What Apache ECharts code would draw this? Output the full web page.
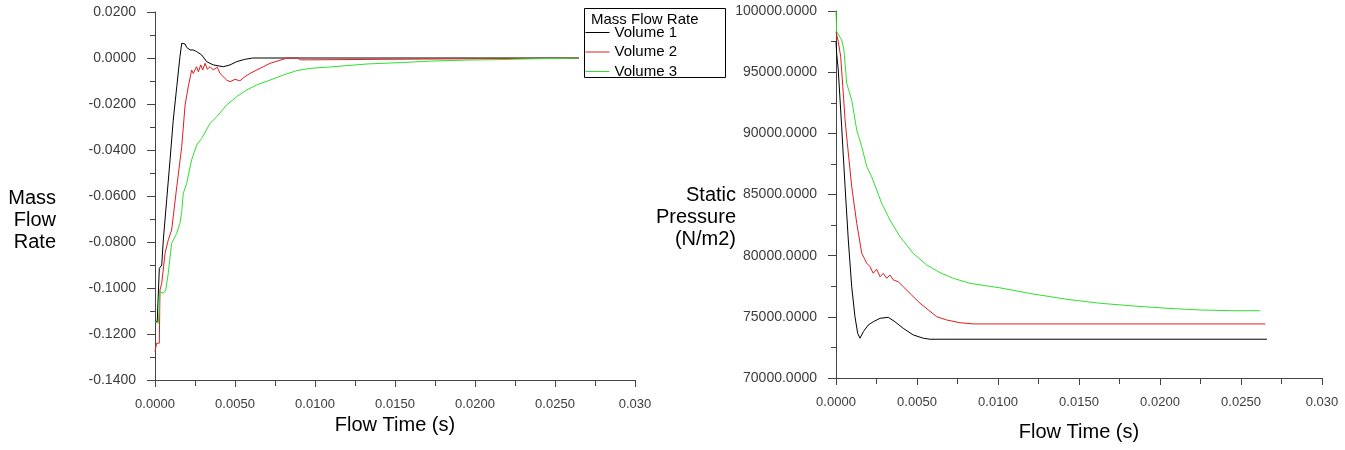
<!DOCTYPE html>
<html>
<head>
<meta charset="utf-8">
<title>Mass Flow Rate and Static Pressure</title>
<script src="https://cdn.jsdelivr.net/npm/echarts@6/dist/echarts.min.js"></script>
<style>
  html, body { margin: 0; padding: 0; background: #ffffff; }
  #chart { width: 1345px; height: 450px; }
</style>
</head>
<body>
<div id="chart"></div>
<script>
// Flow time samples (s) and values for each monitored volume.

// Mass flow rate, Volume 1
const mfTime1 = [0, 0.00006, 0.00014, 0.0002, 0.00027, 0.00042, 0.00052, 0.00073, 0.00094, 0.00114, 0.00136, 0.00156, 0.00167, 0.00177, 0.00188, 0.00198, 0.00208, 0.00219, 0.00239, 0.0026, 0.00292, 0.00323, 0.00364, 0.00427, 0.00469, 0.0051, 0.0056, 0.0061, 0.0265];
const mfVol1 = [-0.1146, -0.1146, -0.1146, -0.1038, -0.0915, -0.090, -0.0791, -0.0617, -0.0443, -0.027, -0.0125, 0.0006, 0.0064, 0.0057, 0.0061, 0.0046, 0.0049, 0.0035, 0.0035, 0.0028, 0.0013, -0.0016, -0.003, -0.0038, -0.003, -0.0016, -0.0006, 0, 0];

// Mass flow rate, Volume 2
const mfTime2 = [0, 0.0001, 0.00027, 0.00031, 0.00042, 0.00063, 0.00083, 0.00104, 0.00136, 0.00167, 0.00188, 0.00208, 0.00229, 0.00239, 0.0026, 0.00271, 0.00286, 0.00298, 0.00313, 0.00327, 0.00344, 0.00364, 0.00389, 0.00406, 0.00448, 0.00469, 0.005, 0.00531, 0.00563, 0.00594, 0.00636, 0.00677, 0.00719, 0.00771, 0.00823, 0.0089, 0.0091, 0.0096, 0.0097, 0.0265];
const mfVol2 = [-0.1277, -0.124, -0.124, -0.1009, -0.098, -0.0849, -0.0791, -0.0748, -0.056, -0.0386, -0.0204, -0.0125, -0.0052, -0.0067, -0.0038, -0.006, -0.003, -0.0052, -0.0023, -0.0049, -0.0038, -0.0052, -0.004, -0.0067, -0.0096, -0.0103, -0.0093, -0.0099, -0.0081, -0.0067, -0.0052, -0.0038, -0.0023, -0.0012, -0.0001, 0, -0.0008, -0.0008, 0, 0];

// Mass flow rate, Volume 3
const mfTime3 = [0, 0.00021, 0.00031, 0.00052, 0.00067, 0.00083, 0.00104, 0.00136, 0.00156, 0.00167, 0.00177, 0.00198, 0.00229, 0.00261, 0.00292, 0.00344, 0.00386, 0.00448, 0.00511, 0.00573, 0.00636, 0.00719, 0.00802, 0.00886, 0.00969, 0.01113, 0.01325, 0.01531, 0.01738, 0.0195, 0.02156, 0.02325, 0.02328, 0.0265];
const mfVol3 = [-0.1146, -0.1153, -0.1016, -0.1023, -0.1009, -0.0936, -0.0806, -0.0762, -0.0719, -0.0668, -0.0588, -0.0545, -0.0443, -0.0378, -0.0349, -0.0284, -0.0255, -0.0204, -0.0168, -0.0139, -0.0117, -0.0096, -0.0074, -0.0055, -0.0045, -0.0038, -0.0026, -0.002, -0.0013, -0.0009, -0.0007, -0.0004, 0, 0];

// Static pressure (N/m2), Volume 1
const spTime1 = [0, 0.00004, 0.00014, 0.00035, 0.00056, 0.00076, 0.00097, 0.00117, 0.00134, 0.00148, 0.00169, 0.00199, 0.0023, 0.00272, 0.00323, 0.00364, 0.00415, 0.00477, 0.00539, 0.0058, 0.0266];
const spVol1 = [97470, 96540, 95180, 90540, 85640, 81280, 77460, 75010, 73650, 73250, 73790, 74330, 74600, 74880, 74960, 74600, 74060, 73520, 73250, 73170, 73170];

// Static pressure (N/m2), Volume 2
const spTime2 = [0, 0.00014, 0.00029, 0.00042, 0.00056, 0.0007, 0.00097, 0.00128, 0.00159, 0.0019, 0.0021, 0.0023, 0.00251, 0.00272, 0.00292, 0.00313, 0.00333, 0.00354, 0.00385, 0.00415, 0.00467, 0.00519, 0.0057, 0.00622, 0.00684, 0.00765, 0.00848, 0.0265];
const spVol2 = [98310, 97490, 96260, 93810, 91090, 89190, 85640, 82650, 80190, 79380, 79100, 78560, 78890, 78280, 78560, 78150, 78420, 78010, 77870, 77460, 76780, 76110, 75560, 75010, 74740, 74520, 74420, 74420];

// Static pressure (N/m2), Volume 3
const spTime3 = [0, 0.00004, 0.00014, 0.00035, 0.00049, 0.00066, 0.00097, 0.00128, 0.00159, 0.0019, 0.0022, 0.00251, 0.00282, 0.00333, 0.00395, 0.00477, 0.0056, 0.00642, 0.00724, 0.00827, 0.0093, 0.01012, 0.01216, 0.01426, 0.0163, 0.01833, 0.02043, 0.02247, 0.02451, 0.02617];
const spVol3 = [100000, 98310, 98180, 97630, 96810, 94090, 92730, 90270, 88910, 87270, 86460, 85370, 84280, 82920, 81550, 80190, 79240, 78610, 78150, 77740, 77530, 77370, 76870, 76430, 76110, 75890, 75700, 75560, 75500, 75500];

const seriesNames = ['Volume 1', 'Volume 2', 'Volume 3'];
const seriesColors = ['#000000', '#e01e1e', '#2fe02f'];
const legendTitle = 'Mass Flow Rate';
const xAxisTitle = 'Flow Time (s)';
const leftAxisTitle = 'Mass\nFlow\nRate';
const rightAxisTitle = 'Static\nPressure\n(N/m2)';

function pairs(ts, vs) {
  return ts.map((t, i) => [t, vs[i]]);
}

const tickColor = '#444444';
const labelColor = '#3c3c3c';
const fontFamily = "'Liberation Sans', Arial, sans-serif";

function timeLabel(v) {
  return Math.abs(v - 0.03) < 1e-9 ? '0.030' : v.toFixed(4);
}

function xAxisCfg(gridIndex, gap) {
  return {
    type: 'value', gridIndex: gridIndex,
    min: 0, max: 0.03, interval: 0.005,
    name: xAxisTitle, nameLocation: 'middle', nameGap: gap,
    nameTextStyle: { fontFamily: fontFamily, fontSize: 20, color: '#000' },
    axisLine: { show: true, onZero: false, lineStyle: { color: tickColor, width: 1 } },
    axisTick: { show: true, inside: false, length: 7, lineStyle: { color: tickColor } },
    minorTick: { show: true, splitNumber: 2, length: 6, lineStyle: { color: tickColor } },
    splitLine: { show: false },
    axisLabel: { margin: 18, fontFamily: fontFamily, fontSize: 13, color: labelColor, formatter: timeLabel }
  };
}

function yAxisCfg(gridIndex, min, max, interval) {
  return {
    type: 'value', gridIndex: gridIndex,
    min: min, max: max, interval: interval,
    axisLine: { show: true, onZero: false, lineStyle: { color: tickColor, width: 1 } },
    axisTick: { show: true, inside: false, length: 8, lineStyle: { color: tickColor } },
    minorTick: { show: true, splitNumber: 2, length: 5, lineStyle: { color: tickColor } },
    splitLine: { show: false },
    axisLabel: { margin: 19, fontFamily: fontFamily, fontSize: 14, color: labelColor, formatter: v => v.toFixed(4) }
  };
}

function lineSeries(name, color, xi, yi, data) {
  return {
    type: 'line', name: name, xAxisIndex: xi, yAxisIndex: yi,
    data: data, symbol: 'none', showSymbol: false, smooth: false,
    lineStyle: { color: color, width: 1 }, itemStyle: { color: color },
    silent: true
  };
}

// Stacked, right-aligned y-axis titles
function axisTitle(text, rightX, topY) {
  return {
    type: 'text', x: rightX, y: topY,
    style: { text: text, fontFamily: fontFamily, fontSize: 20, lineHeight: 22, fill: '#000', align: 'right', verticalAlign: 'top' }
  };
}

const chart = echarts.init(document.getElementById('chart'), null, { renderer: 'canvas' });

chart.setOption({
  animation: false,
  backgroundColor: '#ffffff',
  textStyle: { fontFamily: fontFamily },
  grid: [
    { left: 155, top: 12, width: 480, height: 368 },
    { left: 836, top: 11, width: 486, height: 367 }
  ],
  xAxis: [xAxisCfg(0, 35), xAxisCfg(1, 44)],
  yAxis: [
    yAxisCfg(0, -0.14, 0.02, 0.02),
    yAxisCfg(1, 70000, 100000, 5000)
  ],
  legend: {
    data: seriesNames,
    orient: 'vertical', left: 585, top: 25,
    itemWidth: 24, itemHeight: 14, itemGap: 4.5,
    padding: 0, z: 10,
    selectedMode: false,
    itemStyle: { opacity: 0 },
    lineStyle: { width: 1, opacity: 1 },
    textStyle: { fontFamily: fontFamily, fontSize: 15, color: '#000' }
  },
  graphic: [
    {
      type: 'rect', z: 5,
      shape: { x: 584.5, y: 8.5, width: 141, height: 69 },
      style: { fill: '#ffffff', stroke: '#000000', lineWidth: 1 }
    },
    {
      type: 'text', z: 6, x: 591, y: 20,
      style: { text: legendTitle, fontFamily: fontFamily, fontSize: 15, fill: '#000', verticalAlign: 'middle' }
    },
    axisTitle(leftAxisTitle, 56, 187),
    axisTitle(rightAxisTitle, 736, 184)
  ],
  series: [
    lineSeries(seriesNames[0], seriesColors[0], 0, 0, pairs(mfTime1, mfVol1)),
    lineSeries(seriesNames[1], seriesColors[1], 0, 0, pairs(mfTime2, mfVol2)),
    lineSeries(seriesNames[2], seriesColors[2], 0, 0, pairs(mfTime3, mfVol3)),
    lineSeries(seriesNames[0], seriesColors[0], 1, 1, pairs(spTime1, spVol1)),
    lineSeries(seriesNames[1], seriesColors[1], 1, 1, pairs(spTime2, spVol2)),
    lineSeries(seriesNames[2], seriesColors[2], 1, 1, pairs(spTime3, spVol3))
  ]
});
</script>
</body>
</html>
